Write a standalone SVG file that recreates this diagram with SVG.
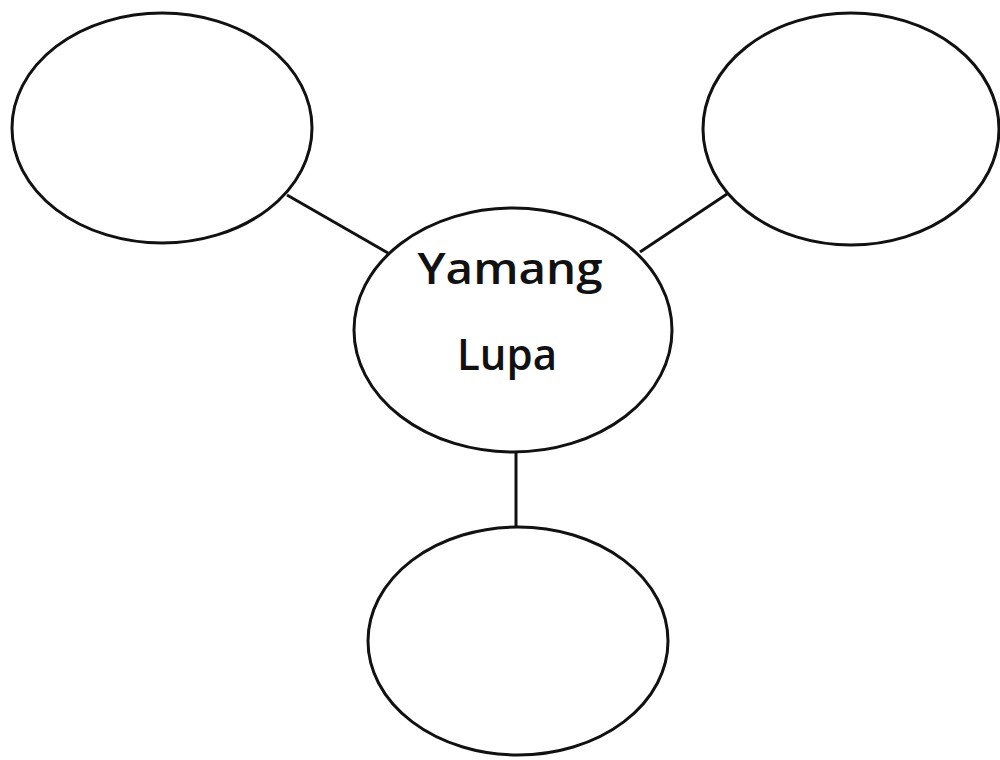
<svg xmlns="http://www.w3.org/2000/svg" width="1000" height="760" viewBox="0 0 1000 760">
  <style>
    .node { fill: #ffffff; stroke: #111111; stroke-width: 3; }
    .edge { stroke: #111111; stroke-width: 3; fill: none; }
    .label { font-family: "Open Sans", "Liberation Sans", sans-serif; font-weight: 600; font-size: 43px; fill: #111111; text-anchor: middle; }
  </style>
  <rect width="1000" height="760" fill="#ffffff"/>
  <g id="connectors">
    <line class="edge" x1="287" y1="195" x2="388" y2="253"/>
    <line class="edge" x1="727" y1="194" x2="640" y2="252"/>
    <line class="edge" x1="516" y1="453" x2="516" y2="528"/>
  </g>
  <g id="node-top-left">
    <ellipse class="node" cx="162" cy="128" rx="150" ry="115"/>
  </g>
  <g id="node-top-right">
    <ellipse class="node" cx="851" cy="129" rx="148" ry="116"/>
  </g>
  <g id="node-center">
    <ellipse class="node" cx="513" cy="330" rx="159" ry="122"/>
    <text class="label" x="510" y="284" textLength="185" lengthAdjust="spacingAndGlyphs">Yamang</text>
    <text class="label" x="507" y="370" textLength="100" lengthAdjust="spacingAndGlyphs">Lupa</text>
  </g>
  <g id="node-bottom">
    <ellipse class="node" cx="518" cy="641" rx="150" ry="114"/>
  </g>
</svg>
